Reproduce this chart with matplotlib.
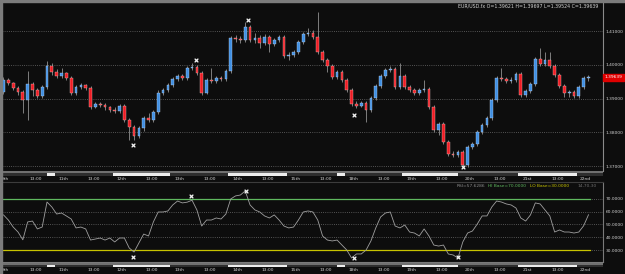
import numpy as np
import matplotlib.pyplot as plt
from matplotlib.patches import Rectangle
import matplotlib.transforms as mtrans

# ---------------- data (EUR/USD.fx, 2h bars, 8th .. 22nd) ----------------
opens = [1.3920, 1.3955, 1.3947, 1.3932, 1.3920, 1.3896, 1.3944, 1.3926, 1.3908, 1.3935,
         1.3997, 1.3979, 1.3967, 1.3976, 1.3961, 1.3917, 1.3935, 1.3941, 1.3932, 1.3875,
         1.3884, 1.3881, 1.3875, 1.3866, 1.3864, 1.3878, 1.3837, 1.3816, 1.3789, 1.3813,
         1.3843, 1.3837, 1.3861, 1.3917, 1.3926, 1.3941, 1.3958, 1.3967, 1.3961, 1.3991,
         1.3994, 1.3976, 1.3917, 1.3955, 1.3953, 1.3961, 1.3958, 1.3982, 1.4080, 1.4077,
         1.4074, 1.4113, 1.4074, 1.4080, 1.4065, 1.4083, 1.4062, 1.4074, 1.4083, 1.4027,
         1.4030, 1.4039, 1.4068, 1.4092, 1.4095, 1.4083, 1.4039, 1.4015, 1.3997, 1.3964,
         1.3979, 1.3955, 1.3926, 1.3884, 1.3878, 1.3887, 1.3866, 1.3902, 1.3938, 1.3967,
         1.3985, 1.3988, 1.3935, 1.3967, 1.3935, 1.3926, 1.3917, 1.3926, 1.3929, 1.3875,
         1.3807, 1.3825, 1.3772, 1.3736, 1.3733, 1.3742, 1.3703, 1.3757, 1.3766, 1.3801,
         1.3822, 1.3843, 1.3896, 1.3961, 1.3958, 1.3953, 1.3955, 1.3973, 1.3911, 1.3923,
         1.3944, 1.4018, 1.4003, 1.4015, 1.3997, 1.3970, 1.3938, 1.3917, 1.3920, 1.3908,
         1.3935, 1.39621]
closes = [1.3955, 1.3947, 1.3932, 1.3920, 1.3896, 1.3944, 1.3926, 1.3908, 1.3935, 1.3997,
          1.3979, 1.3967, 1.3976, 1.3961, 1.3917, 1.3935, 1.3941, 1.3932, 1.3875, 1.3884,
          1.3881, 1.3875, 1.3866, 1.3864, 1.3878, 1.3837, 1.3816, 1.3789, 1.3813, 1.3843,
          1.3837, 1.3861, 1.3917, 1.3926, 1.3941, 1.3958, 1.3967, 1.3961, 1.3991, 1.3994,
          1.3976, 1.3917, 1.3955, 1.3953, 1.3961, 1.3958, 1.3982, 1.4080, 1.4077, 1.4074,
          1.4113, 1.4074, 1.4080, 1.4065, 1.4083, 1.4062, 1.4074, 1.4083, 1.4027, 1.4030,
          1.4039, 1.4068, 1.4092, 1.4095, 1.4083, 1.4039, 1.4015, 1.3997, 1.3964, 1.3979,
          1.3955, 1.3926, 1.3884, 1.3878, 1.3887, 1.3866, 1.3902, 1.3938, 1.3967, 1.3985,
          1.3988, 1.3935, 1.3967, 1.3935, 1.3926, 1.3917, 1.3926, 1.3929, 1.3875, 1.3807,
          1.3825, 1.3772, 1.3736, 1.3733, 1.3742, 1.3703, 1.3757, 1.3766, 1.3801, 1.3822,
          1.3843, 1.3896, 1.3961, 1.3958, 1.3953, 1.3955, 1.3973, 1.3911, 1.3923, 1.3944,
          1.4018, 1.4003, 1.4015, 1.3997, 1.3970, 1.3938, 1.3917, 1.3920, 1.3908, 1.3935,
          1.3962, 1.39639]
highs = [1.3964, 1.3961, 1.3950, 1.3938, 1.3926, 1.3982, 1.3950, 1.3932, 1.3941, 1.4012,
         1.4006, 1.3988, 1.3991, 1.3979, 1.3967, 1.3941, 1.3947, 1.3944, 1.3938, 1.3890,
         1.3890, 1.3887, 1.3878, 1.3875, 1.3884, 1.3884, 1.3843, 1.3822, 1.3819, 1.3849,
         1.3858, 1.3866, 1.3926, 1.3932, 1.3947, 1.3964, 1.3973, 1.3973, 1.3997, 1.4006,
         1.4000, 1.3982, 1.3961, 1.3991, 1.3967, 1.3967, 1.3988, 1.4086, 1.4089, 1.4086,
         1.4128, 1.4119, 1.4095, 1.4089, 1.4092, 1.4089, 1.4080, 1.4089, 1.4089, 1.4039,
         1.4045, 1.4074, 1.4098, 1.4110, 1.4104, 1.4157, 1.4045, 1.4021, 1.4003, 1.3985,
         1.3985, 1.3961, 1.3932, 1.3893, 1.3893, 1.3893, 1.3908, 1.3944, 1.3973, 1.3991,
         1.3997, 1.3994, 1.4006, 1.3973, 1.3941, 1.3932, 1.3932, 1.3955, 1.3935, 1.3881,
         1.3831, 1.3831, 1.3777, 1.3745, 1.3748, 1.3748, 1.3763, 1.3772, 1.3807, 1.3828,
         1.3849, 1.3902, 1.3967, 1.3991, 1.3964, 1.3964, 1.3979, 1.3979, 1.3929, 1.3950,
         1.4024, 1.4050, 1.4039, 1.4039, 1.4003, 1.3976, 1.3944, 1.3926, 1.3926, 1.3941,
         1.3967, 1.39697]
lows = [1.3914, 1.3941, 1.3926, 1.3911, 1.3858, 1.3837, 1.3908, 1.3902, 1.3902, 1.3929,
        1.3970, 1.3961, 1.3961, 1.3955, 1.3911, 1.3911, 1.3929, 1.3926, 1.3869, 1.3872,
        1.3875, 1.3866, 1.3861, 1.3858, 1.3858, 1.3831, 1.3777, 1.3777, 1.3783, 1.3804,
        1.3831, 1.3831, 1.3855, 1.3911, 1.3920, 1.3935, 1.3953, 1.3955, 1.3955, 1.3985,
        1.3970, 1.3911, 1.3914, 1.3947, 1.3947, 1.3953, 1.3953, 1.3976, 1.4068, 1.4065,
        1.4068, 1.4068, 1.4065, 1.4050, 1.4059, 1.4039, 1.4056, 1.4068, 1.4021, 1.4015,
        1.4024, 1.4033, 1.4062, 1.4086, 1.4077, 1.4033, 1.4009, 1.3979, 1.3958, 1.3958,
        1.3950, 1.3920, 1.3878, 1.3872, 1.3875, 1.3831, 1.3861, 1.3896, 1.3932, 1.3961,
        1.3979, 1.3929, 1.3929, 1.3929, 1.3920, 1.3911, 1.3911, 1.3920, 1.3869, 1.3801,
        1.3792, 1.3766, 1.3730, 1.3727, 1.3727, 1.3697, 1.3697, 1.3751, 1.3760, 1.3795,
        1.3816, 1.3837, 1.3890, 1.3953, 1.3947, 1.3947, 1.3950, 1.3905, 1.3905, 1.3917,
        1.3938, 1.3997, 1.3997, 1.3991, 1.3964, 1.3932, 1.3905, 1.3905, 1.3902, 1.3902,
        1.3929, 1.39524]

rsi = [57.5, 53.5, 48.0, 44.1, 38.0, 52.0, 52.7, 46.5, 48.0, 67.6,
       63.7, 58.2, 59.0, 56.7, 54.3, 47.3, 48.0, 46.5, 37.8, 38.6,
       39.4, 37.8, 39.4, 36.3, 39.4, 39.4, 31.6, 28.4, 35.5, 42.5,
       41.0, 52.0, 59.8, 59.8, 60.6, 65.3, 68.4, 66.9, 67.5, 69.0,
       61.4, 48.8, 53.5, 53.5, 55.1, 54.3, 58.2, 70.0, 72.4, 73.1,
       76.3, 65.3, 61.4, 59.8, 56.7, 55.1, 57.5, 53.5, 48.8, 47.3,
       48.0, 53.5, 59.8, 60.6, 59.8, 53.5, 41.0, 37.8, 37.1, 37.8,
       33.9, 30.0, 23.7, 26.9, 26.9, 30.0, 37.1, 47.3, 55.9, 59.0,
       59.8, 48.8, 47.3, 49.6, 44.1, 43.3, 41.0, 46.5, 41.0, 33.9,
       33.1, 33.9, 26.9, 26.1, 23.7, 36.3, 43.3, 44.9, 50.4, 56.7,
       56.7, 63.7, 68.4, 67.6, 66.1, 65.3, 62.9, 55.1, 52.7, 57.5,
       66.9, 66.1, 61.4, 56.7, 44.1, 45.7, 44.1, 44.1, 43.3, 44.1,
       49.0, 57.6286]

# extreme markers (bar position, value)
px_mark_x = [26.8, 39.8, 50.6, 72.5, 95.0]
px_mark_y = [1.3763, 1.4015, 1.4134, 1.3852, 1.3697]
rsi_mark_x = [26.8, 38.8, 50.2, 72.5, 94.0]
rsi_mark_y = [24.5, 72.5, 76.3, 23.7, 24.5]

price_levels = [1.37, 1.38, 1.39, 1.40, 1.41]
rsi_levels = [30, 40, 50, 60, 70]
day_names = ['8th', '11th', '12th', '13th', '14th', '15th', '18th', '19th', '20th', '21st', '22nd']
# white session marks on the time strip (bar units)
strip_marks = [(9.0, 10.7), (22.6, 34.4), (46.4, 58.6), (69.0, 70.6), (82.4, 94.0), (106.4, 118.6)]

# ---------------- figure ----------------
W, H = 625, 274
BG = '#0d0d0d'
fig = plt.figure(figsize=(W / 100, H / 100), dpi=100, facecolor=BG)
FS = 3.2
TXT = '#d2d2d2'


def box(x0, y0, x1, y1):
    return [x0 / W, 1 - y1 / H, (x1 - x0) / W, (y1 - y0) / H]


n = len(closes)
x = np.arange(n)
XL = (-0.31, 124.0)

# tick positions for the time strip
tpos, tlab = [], []
for d, name in enumerate(day_names):
    tpos.append(12 * d + 0.4)
    tlab.append(name)
    if d < len(day_names) - 1:
        tpos.append(12 * d + 6.6)
        tlab.append('13:00')

# ---- main price panel
ax = fig.add_axes(box(2, 2, 603, 171))
ax.set_facecolor(BG)
ax.set_xlim(*XL)
ax.set_ylim(1.368546, 1.418694)
for lv in price_levels:
    ax.axhline(lv, color='#6a6a6a', lw=0.6, ls=(0, (1, 1.6)), zorder=1)

o = np.array(opens)
c = np.array(closes)
up = c >= o
ax.vlines(x, lows, highs, color='#909090', lw=0.6, zorder=2)
body = np.where(np.abs(c - o) < 0.00005, 0.00005, c - o)
ax.bar(x, body, bottom=o, width=0.56,
       color=np.where(up, '#3f8fe2', '#ee1c24'),
       edgecolor=np.where(up, '#cfe0f5', '#f5d0d0'), linewidth=0.25, zorder=3)
ax.scatter(px_mark_x, px_mark_y, marker='x', s=7, c='#f2f2f2', linewidths=0.9, zorder=5)

ax.set_xticks([])
ax.yaxis.tick_right()
ax.set_yticks(price_levels)
ax.set_yticklabels(['%.5f' % v for v in price_levels])
ax.tick_params(axis='y', length=0, pad=2, labelsize=FS, colors=TXT)
for s in ['left', 'top', 'bottom']:
    ax.spines[s].set_visible(False)
ax.spines['right'].set_color('#8a8a8a')
ax.spines['right'].set_linewidth(0.8)

tr = mtrans.blended_transform_factory(ax.transAxes, ax.transData)
ax.text(1.002, closes[-1], '%.5f' % closes[-1], transform=tr, ha='left', va='center',
        fontsize=FS, color='white',
        bbox=dict(boxstyle='square,pad=0.35', fc='#e00000', ec='#e00000'))

fig.text(458 / W, 1 - 6 / H,
         'EUR/USD.fx O=%.5f H=%.5f L=%.5f C=%.5f' % (opens[-1], highs[-1], lows[-1], closes[-1]),
         fontsize=3.4, color=TXT, va='center', ha='left')


# ---- time strips
def time_strip(y0, y1):
    s = fig.add_axes(box(2, y0, 603, y1))
    s.set_facecolor('#2e2e2e')
    s.set_xlim(*XL)
    s.set_ylim(0, 1)
    s.axhspan(0.5, 1, color='#707070', lw=0)
    for a, b in strip_marks:
        s.axvspan(a, b, 0, 0.5, color='#ececec', lw=0)
    s.set_yticks([])
    s.set_xticks(tpos)
    s.set_xticklabels(tlab)
    s.tick_params(axis='x', length=0, pad=1.2, labelsize=FS, colors=TXT)
    for sp in s.spines.values():
        sp.set_visible(False)
    return s


time_strip(171, 175.5)
time_strip(262.5, 266.5)

# ---- RSI panel
rx = fig.add_axes(box(2, 182, 603, 262))
rx.set_facecolor(BG)
rx.set_xlim(*XL)
rx.set_ylim(20.6, 83.3)
for lv in rsi_levels:
    rx.axhline(lv, color='#6a6a6a', lw=0.6, ls=(0, (1, 1.6)), zorder=1)
rx.plot([XL[0], 121.3], [70, 70], color='#5fb85f', lw=0.9, zorder=2)
rx.plot([XL[0], 121.3], [30, 30], color='#c8c400', lw=0.9, zorder=2)
rx.plot(x, rsi, color='#a0a0a0', lw=0.6, zorder=3)
rx.scatter(rsi_mark_x, rsi_mark_y, marker='x', s=7, c='#f2f2f2', linewidths=0.9, zorder=5)
rx.set_xticks([])
rx.yaxis.tick_right()
rx.set_yticks(rsi_levels)
rx.set_yticklabels(['%.4f' % v for v in rsi_levels])
rx.tick_params(axis='y', length=0, pad=2, labelsize=FS, colors=TXT)
rx.spines['left'].set_visible(False)
rx.spines['top'].set_color('#3c3c3c')
rx.spines['right'].set_color('#7a7a7a')
rx.spines['bottom'].set_color('#7a7a7a')
for s in ['top', 'right', 'bottom']:
    rx.spines[s].set_linewidth(0.8)

hy = 1 - 186 / H
fig.text(457 / W, hy, 'RSI=%.4f' % rsi[-1], fontsize=FS, color='#8c8c8c', va='center')
fig.text(488 / W, hy, 'HI Base=70.0000', fontsize=FS, color='#5fb85f', va='center')
fig.text(530 / W, hy, 'LO Base=30.0000', fontsize=FS, color='#c8c400', va='center')
fig.text(578 / W, hy, '14,70,30', fontsize=FS, color='#6e6e6e', va='center')

# frame of the terminal window
fig.patches.append(Rectangle((0, 0), 2 / W, 1, transform=fig.transFigure, color='#7c7c7c', zorder=10))
fig.patches.append(Rectangle((0, 1 - 1.5 / H), 1, 1.5 / H, transform=fig.transFigure, color='#7c7c7c', zorder=10))

fig.savefig('out.png', dpi=100, facecolor=BG)
